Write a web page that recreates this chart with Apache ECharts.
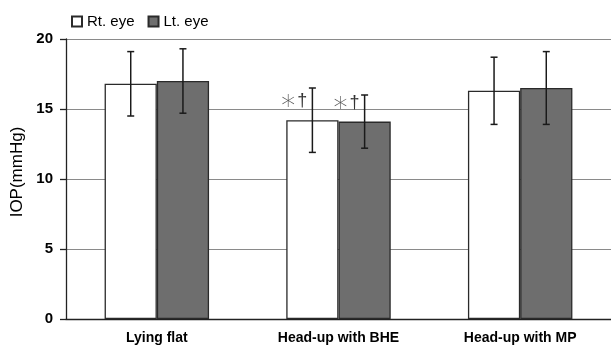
<!DOCTYPE html>
<html>
<head>
<meta charset="utf-8">
<script src="https://cdn.jsdelivr.net/npm/echarts@6/dist/echarts.min.js"></script>
<style>html,body{margin:0;padding:0;background:#fff}#c{width:611px;height:351px}</style>
</head>
<body>
<div id="c"></div>
<script>
const categories = ['Lying flat', 'Head-up with BHE', 'Head-up with MP'];
const seriesNames = ['Rt. eye', 'Lt. eye'];
const rtMean = [16.8, 14.2, 16.3];
const rtSD = [2.3, 2.3, 2.4];
const ltMean = [17.0, 14.1, 16.5];
const ltSD = [2.3, 1.9, 2.6];
const rtMark = ['', '*†', ''];
const ltMark = ['', '*†', ''];
const yTicks = [0, 5, 10, 15, 20];

const FONT = 'Liberation Sans, Arial, sans-serif';
const catGapPct = 42.5;

function errSeries(means, sds, marks, side) {
  return {
    type: 'custom',
    z: 10,
    silent: true,
    data: means.map((m, i) => [i, m, sds[i]]),
    renderItem: function (params, api) {
      const i = api.value(0), m = api.value(1), sd = api.value(2);
      const band = api.size([1, 0])[0];
      const barW = band * (1 - catGapPct / 100) / 2;
      const cx = api.coord([i, 0])[0] + side * barW / 2;
      const yt = api.coord([i, m + sd])[1];
      const yb = api.coord([i, m - sd])[1];
      const ym = api.coord([i, m])[1];
      const st = { stroke: '#1a1a1a', lineWidth: 1.5 };
      const ch = [
        { type: 'line', shape: { x1: cx, y1: yt, x2: cx, y2: yb }, style: st },
        { type: 'line', shape: { x1: cx - 3.5, y1: yt, x2: cx + 3.5, y2: yt }, style: st },
        { type: 'line', shape: { x1: cx - 3.5, y1: yb, x2: cx + 3.5, y2: yb }, style: st }
      ];
      const mk = marks[params.dataIndex];
      if (mk) {
        ch.push({
          type: 'text',
          style: {
            x: cx - 5, y: ym - 19,
            text: '{s|' + mk.charAt(0) + '}{d|' + mk.slice(1) + '}',
            align: 'right', verticalAlign: 'middle',
            rich: {
              s: { fontFamily: 'DejaVu Sans, sans-serif', fontSize: 28, fontWeight: 200, fill: '#555', padding: [14, 2, 0, 0] },
              d: { fontFamily: FONT, fontSize: 18, fill: '#333' }
            }
          }
        });
      }
      return { type: 'group', children: ch };
    }
  };
}

const chart = echarts.init(document.getElementById('c'), null, { renderer: 'canvas' });
chart.setOption({
  animation: false,
  backgroundColor: '#fff',
  legend: {
    data: seriesNames,
    left: 71, top: 14, padding: 0,
    itemWidth: 10, itemHeight: 10, itemGap: 13,
    icon: 'rect',
    textStyle: { fontFamily: FONT, fontSize: 15, color: '#000' }
  },
  grid: { left: 66, top: 39, bottom: 32, width: 547.5 },
  xAxis: {
    type: 'category',
    data: categories,
    axisLine: { lineStyle: { color: '#222', width: 1.3 } },
    axisTick: { length: 6, lineStyle: { color: '#222', width: 1.3 } },
    axisLabel: { fontFamily: FONT, fontSize: 14, fontWeight: 'bold', color: '#000', margin: 12 }
  },
  yAxis: {
    type: 'value',
    min: 0, max: 20, interval: 5,
    name: 'IOP(mmHg)',
    nameLocation: 'middle',
    nameGap: 40,
    nameTextStyle: { fontFamily: FONT, fontSize: 17, color: '#000', padding: [0, 0, 0, 14] },
    axisLine: { show: true, lineStyle: { color: '#222', width: 1.3 } },
    axisTick: { show: true, length: 6, lineStyle: { color: '#222', width: 1.3 } },
    splitLine: { lineStyle: { color: '#8a8a8a', width: 1.2 } },
    axisLabel: {
      fontFamily: FONT, fontSize: 15, fontWeight: 'bold', color: '#000', margin: 13,
      formatter: v => (yTicks.indexOf(v) >= 0 ? String(v) : '')
    }
  },
  series: [
    {
      name: seriesNames[0], type: 'bar', data: rtMean,
      barGap: '0%', barCategoryGap: catGapPct + '%',
      itemStyle: { color: '#ffffff', borderColor: '#2a2a2a', borderWidth: 1.3 }
    },
    {
      name: seriesNames[1], type: 'bar', data: ltMean,
      barGap: '0%', barCategoryGap: catGapPct + '%',
      itemStyle: { color: '#6e6e6e', borderColor: '#2a2a2a', borderWidth: 1.3 }
    },
    errSeries(rtMean, rtSD, rtMark, -1),
    errSeries(ltMean, ltSD, ltMark, 1)
  ]
});
</script>
</body>
</html>
